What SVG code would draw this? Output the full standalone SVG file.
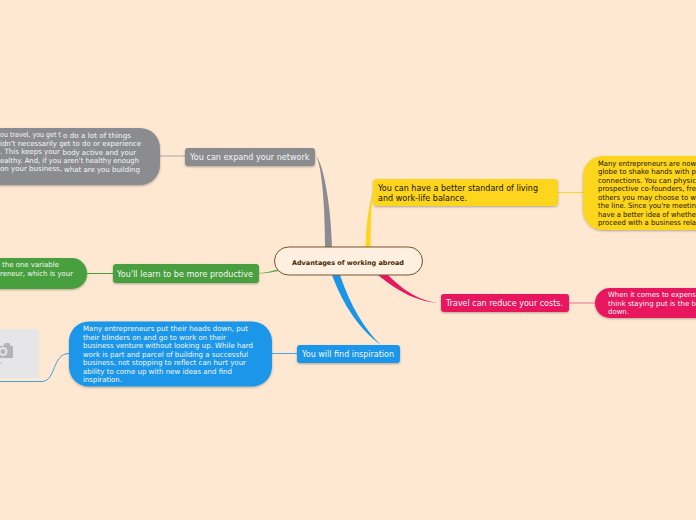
<svg xmlns="http://www.w3.org/2000/svg" width="696" height="520" viewBox="0 0 696 520">
<defs>
<filter id="sh" x="-10%" y="-20%" width="120%" height="150%"><feDropShadow dx="0" dy="1" stdDeviation="1" flood-color="#000" flood-opacity="0.3"/></filter>
<style>
text{font-family:"DejaVu Sans","Liberation Sans",sans-serif}
.t{font-size:8.2px}
.b{font-size:7.2px}
.w{fill:#f6f6f6}
.k{fill:#1a1200}
.n{filter:url(#sh)}
.c{fill:none}
</style>
</defs>
<rect width="696" height="520" fill="#ffe8d2"/>
<g id="connectors">
<path d="M315 155C321 160 325 200 325 247L332 247C331 205 323 160 315 155Z" fill="#8b8c90"/>
<path d="M373 192C369 203 366 225 365.500 247L370.500 247C371 225 371 203 373 192Z" fill="#fcd51c"/>
<path d="M378 275L388 275C403 290 420 302 441 303C420 303 398 292 378 275Z" fill="#e8185e"/>
<path d="M332 275L340 275C350 305 365 330 381 345C360 330 343 305 332 275Z" fill="#1a96e8"/>
<path d="M259 273C266 272.500 272 271 278 269.500L278.500 271C272 272.500 266 273.500 259 273.500Z" fill="#5aac50"/>
<path class="c" d="M160 156H185" stroke="#a5a5a8" stroke-width="1"/>
<path class="c" d="M87 273.500H113" stroke="#46a03c" stroke-width="1"/>
<path class="c" d="M272 353.500H297" stroke="#4da8ea" stroke-width="1"/>
<path class="c" d="M558 192.500H583" stroke="#fcd51c" stroke-width="1"/>
<path class="c" d="M569 303H595" stroke="#ef6f98" stroke-width="1"/>
<path class="c" d="M0 381.500H42C56 381.500 52 353.500 69 353.500" stroke="#3f9fe0" stroke-width="1"/>
</g>
<g id="central">
<rect x="274.500" y="247" width="148" height="28" rx="14" fill="#fff0e2" stroke="#7a5024" stroke-width="1"/>
<text x="292" y="265" font-size="6.500" font-weight="bold" fill="#4a2600" textLength="112" lengthAdjust="spacingAndGlyphs">Advantages of working abroad</text>
</g>
<g id="expand">
<rect class="n" x="185" y="148" width="130" height="18" rx="3" fill="#8b8c90"/>
<text class="t w" x="190" y="160" textLength="119.500" lengthAdjust="spacingAndGlyphs">You can expand your network</text>
</g>
<g id="expand-note">
<rect class="n" x="-60" y="128" width="220" height="57" rx="20" fill="#8b8c90"/>
<text class="b w" x="0" y="137" textLength="61" lengthAdjust="spacingAndGlyphs">ou travel, you get t</text>
<text class="b w" x="63" y="138" textLength="68" lengthAdjust="spacingAndGlyphs">o do a lot of things</text>
<text class="b w" x="0" y="146" textLength="141" lengthAdjust="spacingAndGlyphs">idn't necessarily get to do or experience</text>
<text class="b w" x="0" y="154" textLength="60" lengthAdjust="spacingAndGlyphs">. This keeps your</text>
<text class="b w" x="62.500" y="155" textLength="73.500" lengthAdjust="spacingAndGlyphs">body active and your</text>
<text class="b w" x="0" y="163" textLength="139" lengthAdjust="spacingAndGlyphs">ealthy. And, if you aren't healthy enough</text>
<text class="b w" x="0" y="171" textLength="62" lengthAdjust="spacingAndGlyphs">on your business,</text>
<text class="b w" x="64" y="172" textLength="76" lengthAdjust="spacingAndGlyphs">what are you building</text>
</g>
<g id="productive">
<rect class="n" x="113" y="264" width="146" height="19" rx="3" fill="#46a03c"/>
<text class="t w" x="117" y="277" textLength="136" lengthAdjust="spacingAndGlyphs">You'll learn to be more productive</text>
</g>
<g id="productive-note">
<rect class="n" x="-60" y="258" width="147" height="31" rx="15" fill="#46a03c"/>
<text class="b w" x="2" y="267" textLength="57" lengthAdjust="spacingAndGlyphs">the one variable</text>
<text class="b w" x="0" y="276" textLength="73" lengthAdjust="spacingAndGlyphs">reneur, which is your</text>
</g>
<g id="inspiration">
<rect class="n" x="297" y="345" width="103" height="18" rx="3" fill="#1a96e8"/>
<text class="t w" x="302" y="357" textLength="92" lengthAdjust="spacingAndGlyphs">You will find inspiration</text>
</g>
<g id="inspiration-note">
<rect class="n" x="69" y="321.500" width="203" height="65" rx="20" fill="#1a96e8"/>
<text class="b w" x="83" y="331" textLength="165" lengthAdjust="spacingAndGlyphs">Many entrepreneurs put their heads down, put</text>
<text class="b w" x="83" y="340" textLength="143" lengthAdjust="spacingAndGlyphs">their blinders on and go to work on their</text>
<text class="b w" x="83" y="348" textLength="170" lengthAdjust="spacingAndGlyphs">business venture without looking up. While hard</text>
<text class="b w" x="83" y="357" textLength="165" lengthAdjust="spacingAndGlyphs">work is part and parcel of building a successful</text>
<text class="b w" x="83" y="365" textLength="163" lengthAdjust="spacingAndGlyphs">business, not stopping to reflect can hurt your</text>
<text class="b w" x="83" y="374" textLength="149" lengthAdjust="spacingAndGlyphs">ability to come up with new ideas and find</text>
<text class="b w" x="83" y="382" textLength="39" lengthAdjust="spacingAndGlyphs">inspiration.</text>
</g>
<g id="image-placeholder">
<rect x="-40" y="329" width="79" height="49" rx="3" fill="#e6e6e8"/>
<path d="M-3 346H3L5 343H9L11 346H13V358H-3Z" fill="#b4b4b6"/>
<circle cx="3" cy="351.500" r="4.500" fill="#e6e6e8"/>
<circle cx="3" cy="351.500" r="2.500" fill="#b4b4b6"/>
<circle cx="1" cy="363" r="1" fill="#c8c8ca"/>
</g>
<g id="standard">
<rect class="n" x="373" y="179" width="185" height="27" rx="4" fill="#fcd51c"/>
<text class="t k" x="378" y="191" textLength="160" lengthAdjust="spacingAndGlyphs">You can have a better standard of living</text>
<text class="t k" x="378" y="201" textLength="89" lengthAdjust="spacingAndGlyphs">and work-life balance.</text>
</g>
<g id="standard-note">
<rect class="n" x="583" y="156" width="180" height="74" rx="20" fill="#fcd51c"/>
<text class="b k" x="598" y="166" textLength="98" lengthAdjust="spacingAndGlyphs">Many entrepreneurs are now</text>
<text class="b k" x="598" y="174" textLength="98" lengthAdjust="spacingAndGlyphs">globe to shake hands with p</text>
<text class="b k" x="598" y="183" textLength="98" lengthAdjust="spacingAndGlyphs">connections. You can physic</text>
<text class="b k" x="598" y="191" textLength="98" lengthAdjust="spacingAndGlyphs">prospective co-founders, fre</text>
<text class="b k" x="598" y="200" textLength="98" lengthAdjust="spacingAndGlyphs">others you may choose to w</text>
<text class="b k" x="598" y="208" textLength="98" lengthAdjust="spacingAndGlyphs">the line. Since you're meetin</text>
<text class="b k" x="598" y="217" textLength="98" lengthAdjust="spacingAndGlyphs">have a better idea of whethe</text>
<text class="b k" x="598" y="225" textLength="98" lengthAdjust="spacingAndGlyphs">proceed with a business rela</text>
</g>
<g id="costs">
<rect class="n" x="441" y="294" width="128" height="18" rx="3" fill="#e8185e"/>
<text class="t w" x="446" y="306" textLength="117" lengthAdjust="spacingAndGlyphs">Travel can reduce your costs.</text>
</g>
<g id="costs-note">
<rect class="n" x="595" y="288" width="160" height="30" rx="15" fill="#e8185e"/>
<text class="b w" x="608" y="297" textLength="88" lengthAdjust="spacingAndGlyphs">When it comes to expens</text>
<text class="b w" x="608" y="306" textLength="88" lengthAdjust="spacingAndGlyphs">think staying put is the b</text>
<text class="b w" x="608" y="314" textLength="21" lengthAdjust="spacingAndGlyphs">down.</text>
</g>
</svg>
